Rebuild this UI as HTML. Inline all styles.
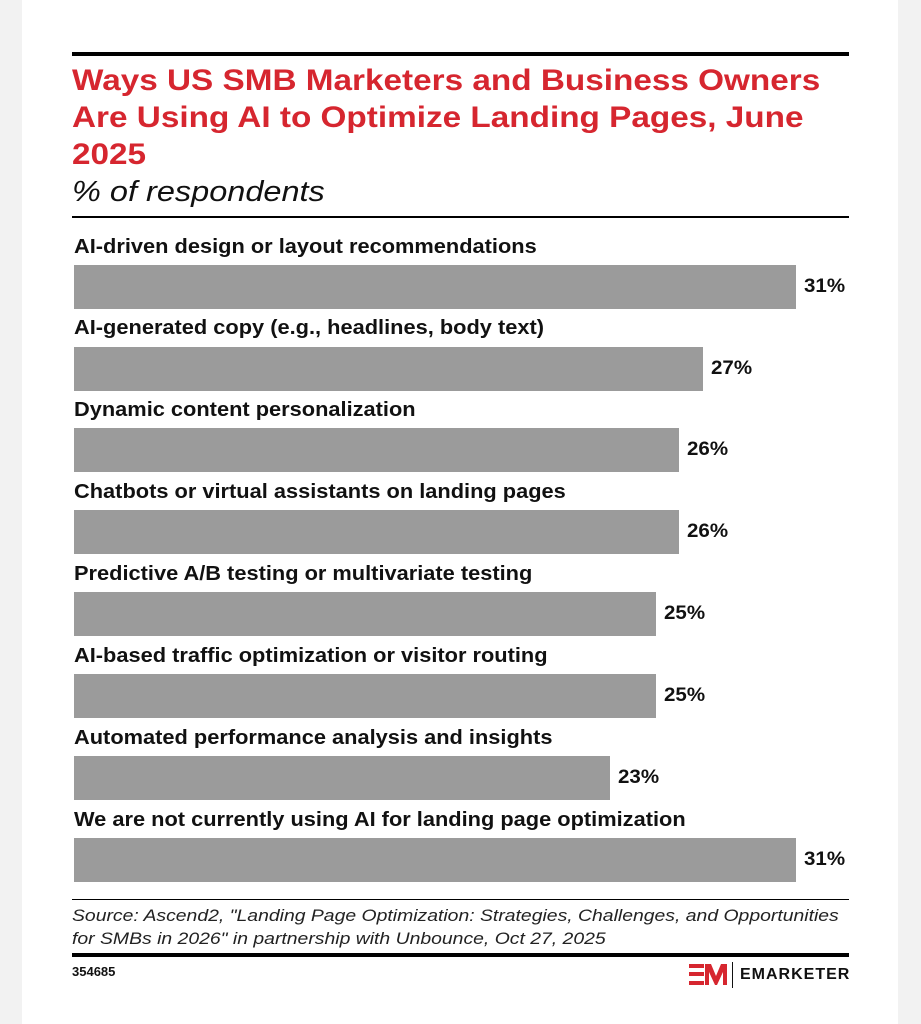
<!DOCTYPE html>
<html><head><style>
body{margin:0;width:921px;height:1024px;background:#f2f2f2;position:relative;font-family:"Liberation Sans",sans-serif;overflow:hidden}
.card{position:absolute;left:22px;top:0;width:876px;height:1024px;background:#fff}
.a{position:absolute;transform-origin:left top}
.lab{position:absolute;left:74px;font-size:20px;font-weight:bold;color:#111;line-height:24px;transform:scaleX(1.09);transform-origin:left top;white-space:nowrap}
.bar{position:absolute;left:74px;height:44px;background:#9b9b9b}
.val{position:absolute;font-size:19px;font-weight:bold;color:#111;line-height:44px;transform:scaleX(1.08);transform-origin:left top}
</style></head><body>
<div class="card"></div>
<div class="a" style="left:72px;top:52px;width:777px;height:4px;background:#000"></div>
<div class="a" style="left:72px;top:62px;font-size:30px;font-weight:bold;color:#d6262f;line-height:37px;white-space:nowrap;transform:scaleX(1.11)">Ways US SMB Marketers and Business Owners<br>Are Using AI to Optimize Landing Pages, June<br>2025</div>
<div class="a" style="left:72px;top:174px;font-size:29px;font-style:italic;color:#111;line-height:36px;transform:scaleX(1.12)">% of respondents</div>
<div class="a" style="left:72px;top:216px;width:777px;height:2px;background:#000"></div>

<div class="lab" style="top:235px">AI-driven design or layout recommendations</div>
<div class="bar" style="top:265px;width:722px"></div><div class="val" style="top:265px;left:804px">31%</div>
<div class="lab" style="top:316px">AI-generated copy (e.g., headlines, body text)</div>
<div class="bar" style="top:347px;width:629px"></div><div class="val" style="top:347px;left:711px">27%</div>
<div class="lab" style="top:398px">Dynamic content personalization</div>
<div class="bar" style="top:428px;width:605px"></div><div class="val" style="top:428px;left:687px">26%</div>
<div class="lab" style="top:480px">Chatbots or virtual assistants on landing pages</div>
<div class="bar" style="top:510px;width:605px"></div><div class="val" style="top:510px;left:687px">26%</div>
<div class="lab" style="top:562px">Predictive A/B testing or multivariate testing</div>
<div class="bar" style="top:592px;width:582px"></div><div class="val" style="top:592px;left:664px">25%</div>
<div class="lab" style="top:644px">AI-based traffic optimization or visitor routing</div>
<div class="bar" style="top:674px;width:582px"></div><div class="val" style="top:674px;left:664px">25%</div>
<div class="lab" style="top:726px">Automated performance analysis and insights</div>
<div class="bar" style="top:756px;width:536px"></div><div class="val" style="top:756px;left:618px">23%</div>
<div class="lab" style="top:808px">We are not currently using AI for landing page optimization</div>
<div class="bar" style="top:838px;width:722px"></div><div class="val" style="top:838px;left:804px">31%</div>

<div class="a" style="left:72px;top:899px;width:777px;height:1px;background:#000"></div>
<div class="a" style="left:72px;top:904px;font-size:17px;font-style:italic;color:#222;line-height:23px;white-space:nowrap;transform:scaleX(1.14)">Source: Ascend2, "Landing Page Optimization: Strategies, Challenges, and Opportunities<br>for SMBs in 2026" in partnership with Unbounce, Oct 27, 2025</div>
<div class="a" style="left:72px;top:953px;width:777px;height:4px;background:#000"></div>
<div class="a" style="left:72px;top:964px;font-size:13px;font-weight:bold;color:#111">354685</div>
<svg class="a" style="left:689px;top:962px" width="40" height="26" viewBox="0 0 40 26">
<rect x="0" y="2" width="15" height="4" fill="#d6262f"/><rect x="0" y="10" width="15" height="4" fill="#d6262f"/><rect x="0" y="19" width="15" height="4" fill="#d6262f"/>
<path d="M16 2 L22 2 L27 14 L32 2 L38 2 L38 23 L34 23 L34 10 L28 23 L26 23 L20 10 L20 23 L16 23Z" fill="#d6262f"/>
</svg>
<div class="a" style="left:732px;top:962px;width:1px;height:26px;background:#111"></div>
<div class="a" style="left:740px;top:966px;font-size:16px;font-weight:bold;color:#111;letter-spacing:1px">EMARKETER</div>
</body></html>
